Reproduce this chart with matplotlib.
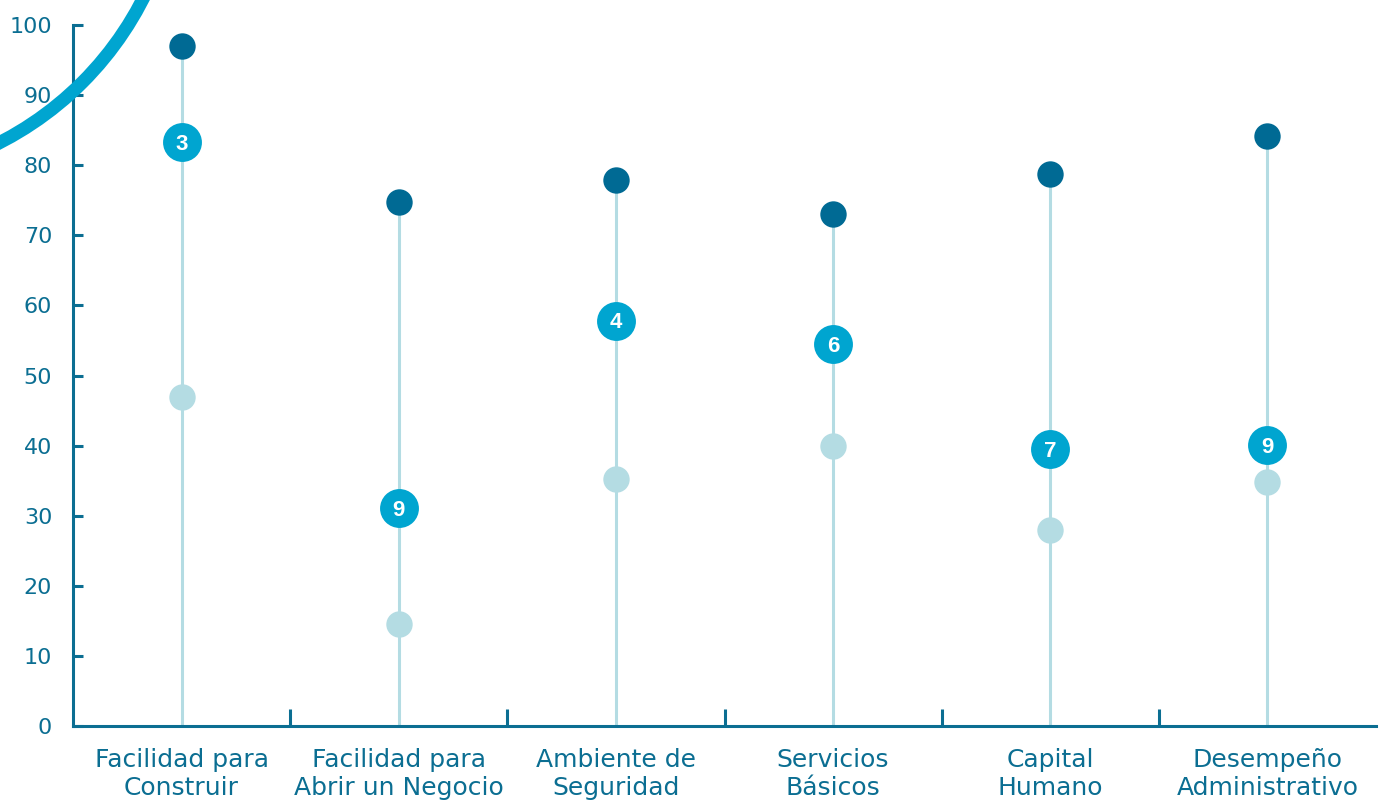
import matplotlib
matplotlib.use('Agg')
import matplotlib.pyplot as plt
from matplotlib.patches import Ellipse
import numpy as np

plt.rcParams['font.family'] = ['DejaVu Sans']

categories = ['Facilidad para\nConstruir', 'Facilidad para\nAbrir un Negocio', 'Ambiente de\nSeguridad',
              'Servicios\nBásicos', 'Capital\nHumano', 'Desempeño\nAdministrativo']
top_vals = [97.0, 74.7, 77.9, 73.0, 78.7, 84.2]
mid_vals = [83.3, 31.1, 57.8, 54.5, 39.5, 40.1]
low_vals = [46.9, 14.6, 35.2, 39.9, 28.0, 34.8]
ranks = ['3', '9', '4', '6', '7', '9']

dark = '#006a94'
mid = '#00a5d0'
light = '#b4dce3'
axis_col = '#0b6e92'

fig = plt.figure(figsize=(13.85, 8), dpi=100)
ax = fig.add_axes([73/1385., 74/800., 1303/1385., 701/800.])

x = np.arange(len(categories))
ax.vlines(x, 0, top_vals, color=light, lw=2.2, zorder=1)
ax.plot(x, low_vals, 'o', ms=19, color=light, mec='none', zorder=2)
ax.plot(x, top_vals, 'o', ms=19, color=dark, mec='none', zorder=3)
ax.plot(x, mid_vals, 'o', ms=28, color=mid, mec='none', zorder=4)
for xi, yi, r in zip(x, mid_vals, ranks):
    ax.text(xi, yi - 0.3, r, ha='center', va='center', color='white', fontsize=16,
            fontweight='bold', family='Liberation Sans', zorder=5)

ax.set_xlim(-0.5, len(categories)-0.5)
ax.set_ylim(0, 100)
ax.set_yticks(np.arange(0, 101, 10))
ax.set_xticks(x)
ax.set_xticklabels(categories, fontsize=18, color=axis_col, linespacing=1.2)
ax.set_xticks(np.arange(0.5, len(categories)-1, 1), minor=True)
ax.tick_params(axis='x', which='major', length=0, pad=16)
ax.tick_params(axis='x', which='minor', direction='in', length=12, width=2.2, color=axis_col)
ax.tick_params(axis='y', direction='in', length=7, width=2.2, color=axis_col,
               labelsize=16, labelcolor=axis_col, pad=15)
for s in ['top', 'right']:
    ax.spines[s].set_visible(False)
for s in ['left', 'bottom']:
    ax.spines[s].set_color(axis_col)
    ax.spines[s].set_linewidth(2.2)
ax.spines['left'].set_zorder(6)

# decorative arc in the upper-left corner
arc = Ellipse((-151/1385., 951/800.), 2*330/1385., 2*330/800., transform=fig.transFigure,
              fill=False, ec=mid, lw=9.5, clip_on=False, zorder=10)
fig.patches.append(arc)

fig.savefig('out.png', dpi=100, facecolor='white')
